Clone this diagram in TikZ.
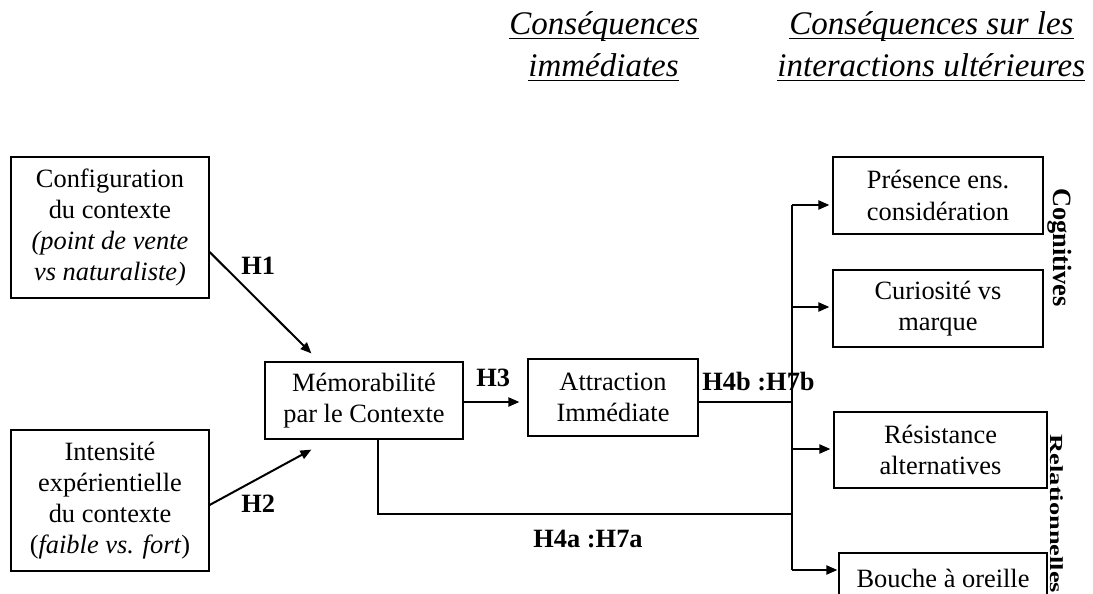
\documentclass[tikz,border=0pt]{standalone}
\usepackage{fontspec}
\setmainfont{Liberation Serif}
\usetikzlibrary{arrows.meta,calc}
\newcommand\bodysize{\fontsize{13.2}{15.6}\selectfont}
\newcommand\headsize{\fontsize{16.5}{20.5}\selectfont}
\begin{document}
\begin{tikzpicture}[x=0.5pt,y=-0.5pt,
  box/.style={draw, line width=0.6pt, inner sep=0pt, align=center, font=\bodysize},
  hyp/.style={font=\bodysize\bfseries, inner sep=0pt, anchor=base west},
  head/.style={font=\headsize\itshape, inner sep=0pt, anchor=base west},
  side/.style={font=\bodysize\bfseries, inner sep=0pt, anchor=base, rotate=-90},
  link/.style={line width=0.6pt},
  arr/.style={line width=1pt, -{Triangle[length=5.5pt,width=4.5pt]}},
  uline/.style={line width=0.55pt}]
\path[use as bounding box, clip] (0,0) rectangle (1093,594);

% column headings
\node[head] (h1a) at (509,34) {Conséquences};
\node[head] (h1b) at (528,76) {immédiates};
\node[head] (h2a) at (789,34) {Conséquences sur les};
\node[head] (h2b) at (777,76) {interactions ultérieures};
\foreach \n in {h1a,h1b,h2a,h2b}
  \draw[uline] ([yshift=-2.4pt]\n.base west) -- ([yshift=-2.4pt]\n.base east);

% antecedents and mediators
\node[box, minimum width=99pt, minimum height=70.5pt] (conf) at (110,227.5)
  {Configuration\\du contexte\\\textit{(point de vente}\\\textit{vs naturaliste)}};
\node[box, minimum width=99pt, minimum height=70.5pt] (inten) at (110,500.5)
  {Intensité\\expérientielle\\du contexte\\(\textit{faible vs. fort})};
\node[box, minimum width=99pt, minimum height=38.5pt] (memo) at (364,400.5)
  {Mémorabilité\\par le Contexte};
\node[box, minimum width=85pt, minimum height=38.5pt] (attr) at (613,397.5)
  {Attraction\\Immédiate};

% outcomes
\node[box, minimum width=105pt, minimum height=38.5pt] (pres) at (938,195.5)
  {Présence ens.\\considération};
\node[box, minimum width=105pt, minimum height=38.5pt] (curi) at (938,308.5)
  {Curiosité vs\\marque};
\node[box, minimum width=106.5pt, minimum height=38pt] (resi) at (940.5,450)
  {Résistance\\alternatives};
\node[box, minimum width=104pt, minimum height=25pt] (bouc) at (943,578)
  {Bouche à oreille};

% outcome groups
\node[side] (cog) at (1053,247.5) {Cognitives};
\node[side] (rel) at (1050.5,514) {\scalebox{1}[0.7]{Relationnelles}};

% distribution trunk
\coordinate (t1) at (792,205);
\coordinate (t2) at (792,307);
\coordinate (t3) at (792,449);
\coordinate (t4) at (792,570);
\coordinate (ja) at (792,402);
\coordinate (jb) at (792,514);
\draw[link] (t1) -- (t4);
\draw[arr] (t1) -- ([xshift=-1.5pt]t1 -| pres.west);
\draw[arr] (t2) -- ([xshift=-1.5pt]t2 -| curi.west);
\draw[arr] (t3) -- ([xshift=-1.5pt]t3 -| resi.west);
\draw[arr] (t4) -- ([xshift=-0.5pt]t4 -| bouc.west);
\draw[link] (attr.east |- ja) -- (ja);
\draw[link] ($(memo.south)+(14,0)$) |- (jb);

% hypothesised effects
\draw[arr] ($(conf.east)+(0,24.5)$) -- ($(memo.north west)+(47,-8)$);
\draw[arr] ($(inten.east)+(0,4.5)$) -- ($(memo.south west)+(47,10)$);
\draw[arr] (memo.east |- ja) -- ([xshift=-4pt]ja -| attr.west);

% hypothesis labels
\node[hyp] (lh1) at (241,274) {H1};
\node[hyp] (lh2) at (241,512) {H2};
\node[hyp] (lh3) at (476,386) {H3};
\node[hyp] (lh4b) at (702,390) {H4b :H7b};
\node[hyp] (lh4a) at (533,547) {H4a :H7a};
\end{tikzpicture}
\end{document}
